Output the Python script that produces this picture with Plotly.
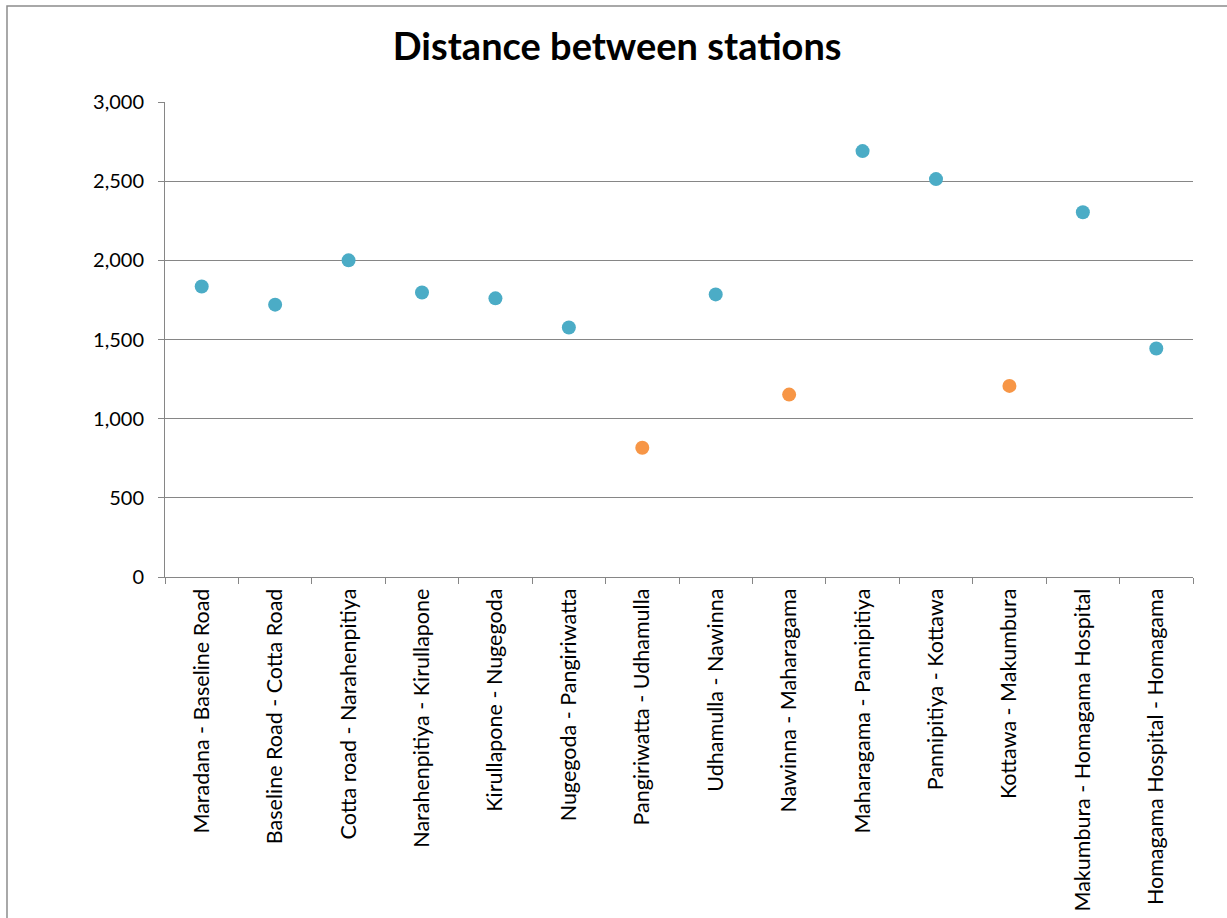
import plotly.graph_objects as go

# Station-to-station segments and their distances
segments = [
    "Maradana - Baseline Road",
    "Baseline Road - Cotta Road",
    "Cotta road - Narahenpitiya",
    "Narahenpitiya - Kirullapone",
    "Kirullapone - Nugegoda",
    "Nugegoda - Pangiriwatta",
    "Pangiriwatta - Udhamulla",
    "Udhamulla - Nawinna",
    "Nawinna - Maharagama",
    "Maharagama - Pannipitiya",
    "Pannipitiya - Kottawa",
    "Kottawa - Makumbura",
    "Makumbura - Homagama Hospital",
    "Homagama Hospital - Homagama",
]
distances = [1835, 1720, 2000, 1797, 1760, 1576, 816, 1785, 1152, 2690, 2513, 1207, 2304, 1443]

# Segments shown in the second colour
highlighted = ["Pangiriwatta - Udhamulla", "Nawinna - Maharagama", "Kottawa - Makumbura"]

y_ticks = [0, 500, 1000, 1500, 2000, 2500, 3000]
y_labels = ["0", "500", "1,000", "1,500", "2,000", "2,500", "3,000"]

BLUE = "#4BACC6"
ORANGE = "#F79646"
GRID = "#868686"
FONT = "Lato, Open Sans, sans-serif"

colors = [ORANGE if s in highlighted else BLUE for s in segments]

fig = go.Figure(
    go.Scatter(
        x=segments,
        y=distances,
        mode="markers",
        marker=dict(size=14, color=colors, line=dict(width=0)),
        showlegend=False,
        hoverinfo="x+y",
    )
)

fig.update_layout(
    width=1227,
    height=918,
    margin=dict(l=165, r=34, t=102, b=341),
    paper_bgcolor="white",
    plot_bgcolor="white",
    title=dict(
        text="<b>Distance between stations</b>",
        x=0.503,
        xanchor="center",
        y=0.949,
        yanchor="middle",
        font=dict(family=FONT, size=38, color="black"),
    ),
    xaxis=dict(
        type="category",
        range=[-0.5, len(segments) - 0.5],
        automargin=False,
        tickangle=-90,
        tickson="boundaries",
        ticks="outside",
        ticklen=6,
        tickcolor=GRID,
        showline=True,
        linecolor=GRID,
        linewidth=1,
        showgrid=False,
        ticklabelstandoff=2,
        tickfont=dict(family=FONT, size=21.5, color="black"),
    ),
    yaxis=dict(
        range=[0, 3000],
        automargin=False,
        tickvals=y_ticks,
        ticktext=y_labels,
        ticks="outside",
        ticklen=6,
        tickcolor=GRID,
        showline=True,
        linecolor=GRID,
        linewidth=1,
        showgrid=True,
        gridcolor=GRID,
        gridwidth=1,
        zeroline=False,
        ticklabelstandoff=10,
        tickfont=dict(family=FONT, size=20, color="black"),
    ),
    shapes=[
        dict(
            type="rect",
            xref="paper",
            yref="paper",
            x0=-0.1537,
            x1=1.3,
            y0=-1.0,
            y1=1.2021,
            line=dict(color="#8C8C8C", width=1.5),
            fillcolor="rgba(0,0,0,0)",
            layer="below",
        )
    ],
)

fig.write_html("out.html")
